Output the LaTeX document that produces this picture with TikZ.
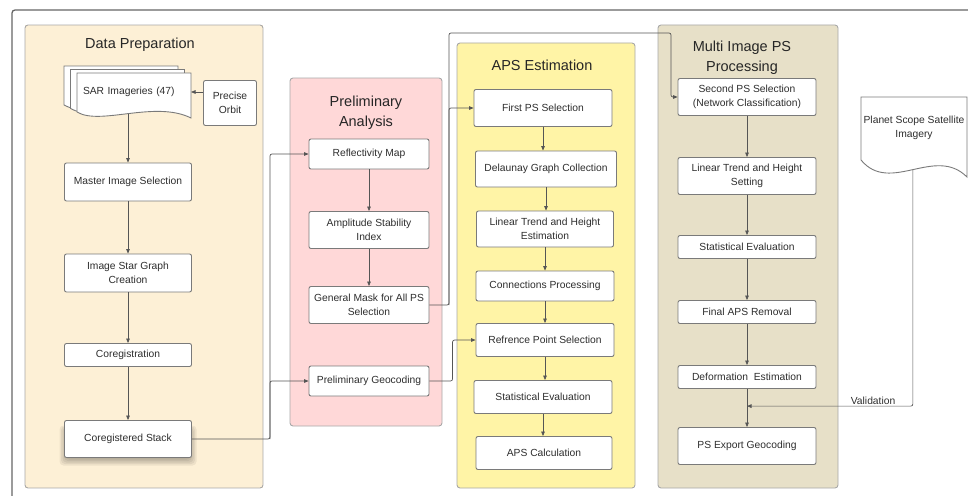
\documentclass[tikz,border=0pt]{standalone}
\usepackage{fontspec}
\setmainfont{Liberation Sans}
\usepackage{xcolor}
\usetikzlibrary{calc,arrows.meta}

\definecolor{prepfill}{HTML}{FDF0D6}
\definecolor{prelimfill}{HTML}{FFD8D8}
\definecolor{apsfill}{HTML}{FFF4A6}
\definecolor{multifill}{HTML}{E7E0C8}
\definecolor{edgegray}{HTML}{7A7A7A}
\definecolor{panelgray}{HTML}{A8A8A8}
\definecolor{linkgray}{HTML}{555555}
\definecolor{txtgray}{HTML}{2E2E2E}

\begin{document}
\begin{tikzpicture}[x=1pt, y=-1pt,
    box/.style={draw=edgegray, fill=white, rounded corners=2pt, line width=0.9pt, align=center, text=txtgray, font=\fontsize{10.3}{13.5}\selectfont, inner sep=1pt},
    bsize/.style 2 args={minimum width=#1pt, minimum height=#2pt},
    panel/.style={draw=panelgray, rounded corners=3pt, line width=0.9pt},
    title/.style={align=center, text=black!85, font=\fontsize{14.5}{20}\selectfont},
    arr/.style={draw=linkgray, line width=0.7pt, rounded corners=2pt, -{Triangle[length=4.5pt,width=3.6pt]}},
    docshape/.style={draw=edgegray, fill=white, line width=0.9pt}]
    \useasboundingbox (0,0) rectangle (968,495);

    % Frame
    \draw[black!60, line width=1.3pt, rounded corners=3pt] (12,520) -- (12,10) -- (990,10);

    % Panels
    \fill[prepfill] (25,25) rectangle (263,488);
    \draw[panel] (25,25) rectangle (263,488);
    \filldraw[panel, fill=prelimfill] (290,78) rectangle (442,426);
    \filldraw[panel, fill=apsfill] (457,43) rectangle (635,488);
    \filldraw[panel, fill=multifill] (658,25) rectangle (838,488);

    \node[title] (tprep) at (140,45) {Data Preparation};
    \node[title] (tprelim) at (366,113) {Preliminary\\Analysis};
    \node[title] (taps) at (542,65) {APS Estimation};
    \node[title] (tmulti) at (742,58) {Multi Image PS\\Processing};

    % SAR stack (document shapes)
    \foreach \dx/\dy in {-13/-7,-6.5/-3.5}{
        \begin{scope}[shift={(\dx,\dy)}]
            \draw[docshape] (77,112) -- (77,73) -- (191,73) -- (191,118) .. controls (155,100) and (100,126) .. (77,112) -- cycle;
        \end{scope}
    }
    \draw[docshape] (77,112) -- (77,73) -- (191,73) -- (191,118) .. controls (155,100) and (100,126) .. (77,112) coordinate[pos=0.5] (sarb) -- cycle;
    \node[text width=102pt, align=left, inner sep=6pt, text=txtgray, font=\fontsize{10.3}{13.5}\selectfont] (sar) at (134,92) {SAR Imageries (47)};

    % soft shadow under the stack box
    \foreach \s in {0,1.5,...,7.5}
        \fill[black, opacity=0.06, rounded corners=4pt] ({67-\s},{430-\s*0.6}) rectangle ({189+\s},{458+\s});

    % Data preparation
    \node[box, bsize={53}{45}] (orbit) at (230,103) {Precise\\Orbit};
    \node[box, bsize={127}{38}] (master) at (128,182) {Master Image Selection};
    \node[box, bsize={127}{38}] (star) at (128,273) {Image Star Graph\\Creation};
    \node[box, bsize={127}{23}] (coreg) at (128,355) {Coregistration};
    \node[box, bsize={127}{37}] (stack) at (128,439) {Coregistered Stack};

    % Preliminary analysis
    \node[box, bsize={120}{30}] (refl) at (369,154) {Reflectivity Map};
    \node[box, bsize={120}{37}] (amp) at (369,230) {Amplitude Stability\\Index};
    \node[box, bsize={120}{37}] (mask) at (369,305) {General Mask for All PS\\Selection};
    \node[box, bsize={120}{30}] (pgeo) at (369,381) {Preliminary Geocoding};

    % APS estimation
    \node[box, bsize={138}{37}] (fps) at (543,108) {First PS Selection};
    \node[box, bsize={141}{36}] (dgc) at (546,169) {Delaunay Graph Collection};
    \node[box, bsize={137}{36}] (ltre) at (545,229) {Linear Trend and Height\\Estimation};
    \node[box, bsize={138}{30}] (conp) at (545,286) {Connections Processing};
    \node[box, bsize={138}{33}] (rps) at (545,340) {Refrence Point Selection};
    \node[box, bsize={138}{33}] (sev) at (543,397) {Statistical Evaluation};
    \node[box, bsize={136}{33}] (apsc) at (544,453) {APS Calculation};

    % Multi image PS processing
    \node[box, bsize={138}{37}] (sps) at (747,97) {Second PS Selection\\(Network Classification)};
    \node[box, bsize={138}{37}] (lts) at (747,176) {Linear Trend and Height\\Setting};
    \node[box, bsize={138}{23}] (sev2) at (747,247) {Statistical Evaluation};
    \node[box, bsize={138}{23}] (fapr) at (747,312) {Final APS Removal};
    \node[box, bsize={138}{23}] (defo) at (747,377) {Deformation~~Estimation};
    \node[box, bsize={138}{37}] (psx) at (747,446) {PS Export Geocoding};

    % Planet Scope imagery
    \draw[docshape] (861,160) -- (861,97) -- (967,97) -- (967,177) .. controls (935,145) and (890,195) .. (861,160) coordinate[pos=0.5] (plb) -- cycle;
    \node[align=center, text=txtgray, font=\fontsize{10.3}{13.5}\selectfont] (planet) at (914,128) {Planet Scope Satellite\\Imagery};

    % Flow inside the panels
    \draw[arr] (orbit.west |- sar.east) -- (sar.east -| 191,0);
    \draw[arr] (sarb -| master.north) -- (master.north);
    \foreach \a/\b in {master/star, star/coreg, coreg/stack, refl/amp, amp/mask,
                       fps/dgc, dgc/ltre, ltre/conp, conp/rps, rps/sev, sev/apsc,
                       sps/lts, lts/sev2, sev2/fapr, fapr/defo, defo/psx}
        \draw[arr] (\a.south) -- (\a.south |- \b.north);

    % Links between panels
    \coordinate (ja) at (270,0);
    \coordinate (jb) at (449,33);
    \coordinate (jc) at (671,0);
    \draw[arr] (stack.east) -| (ja |- refl.west) -- (refl.west);
    \draw[arr] (stack.east -| ja) |- (pgeo.west);
    \draw[arr] (mask.east) -| (jb) -- (jb -| jc) |- (sps.west);
    \draw[arr] (mask.east -| jb) |- (fps.west);
    \draw[arr] (pgeo.east) -| ($(rps.west)+(-23,0)$) -- (rps.west);

    % Validation
    \coordinate (vj) at ($(defo.south)!0.45!(psx.north)$);
    \draw[arr] (plb) |- (vj) node[pos=0.62, above, inner sep=1.5pt, text=txtgray, font=\fontsize{10.3}{13.5}\selectfont] (valid) {Validation};
\end{tikzpicture}
\end{document}
